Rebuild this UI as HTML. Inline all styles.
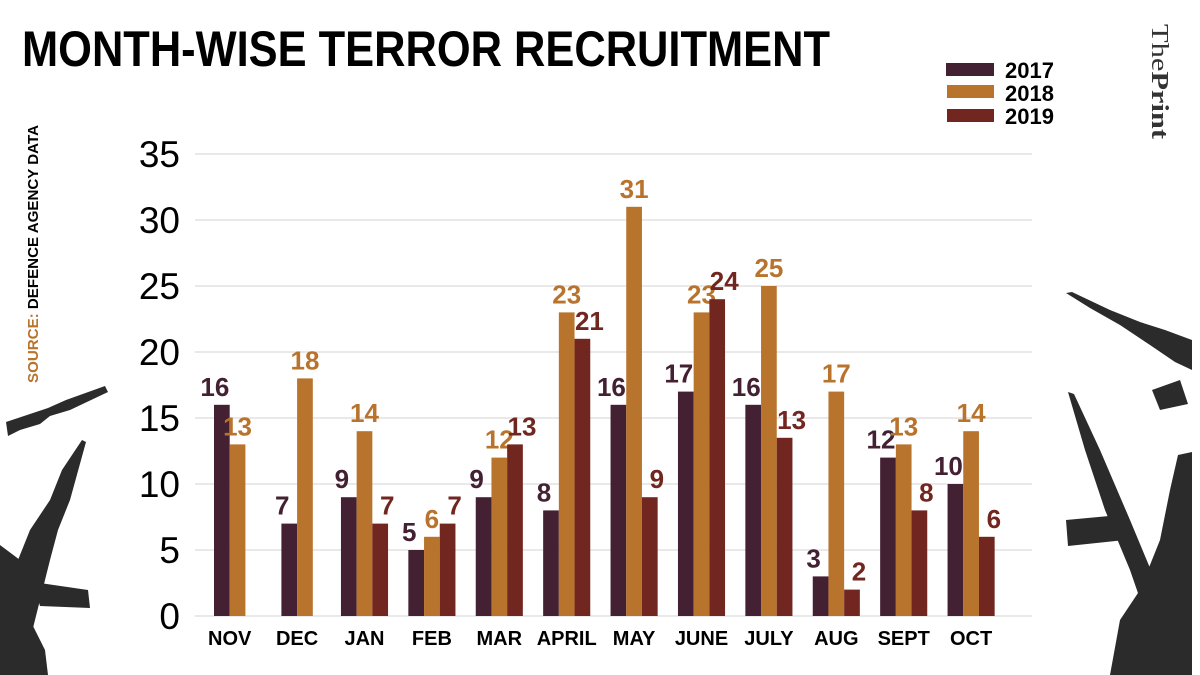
<!DOCTYPE html>
<html><head><meta charset="utf-8">
<style>
html,body{margin:0;padding:0;background:#fff;}
svg{display:block;font-family:"Liberation Sans",sans-serif;}
</style></head>
<body>
<svg id="chart" width="1200" height="675" viewBox="0 0 1200 675">
  <text x="22" y="66" font-size="50" font-weight="bold" fill="#000" textLength="808" lengthAdjust="spacingAndGlyphs">MONTH-WISE TERROR RECRUITMENT</text>
  <text transform="translate(38,383) rotate(-90)" font-size="15" font-weight="bold" textLength="258" lengthAdjust="spacingAndGlyphs"><tspan fill="#b8732c">SOURCE:</tspan><tspan fill="#000"> DEFENCE AGENCY DATA</tspan></text>
  <text transform="translate(1152,24) rotate(90)" font-family="Liberation Serif, serif" font-size="24" fill="#333" textLength="115" lengthAdjust="spacingAndGlyphs">The<tspan font-weight="bold">Print</tspan></text>
  <g>
    <rect x="946" y="63" width="48" height="13" fill="#432032"/>
    <text x="1005" y="78" font-size="22" font-weight="bold">2017</text>
    <rect x="947" y="85" width="47" height="13" fill="#b8732c"/>
    <text x="1005" y="101" font-size="22" font-weight="bold">2018</text>
    <rect x="947" y="109" width="47" height="13" fill="#722620"/>
    <text x="1005" y="124" font-size="22" font-weight="bold">2019</text>
  </g>
  <g fill="#2b2b2b">
    <polygon points="105,386 108,392 70,410 50,416 40,424 20,430 8,436 6,422 30,414 48,408 66,400"/>
    <polygon points="82,440 86,442 70,500 58,530 50,560 40,600 30,640 20,675 0,675 0,610 14,570 30,530 50,500 62,470"/>
    <polygon points="33,582 88,590 90,608 40,606"/>
    <polygon points="0,545 20,560 30,620 45,650 48,675 0,675"/>
    <polygon points="1066,293 1072,292 1110,310 1140,322 1165,330 1192,340 1192,370 1175,362 1150,345 1120,325 1090,308"/>
    <polygon points="1152,390 1180,380 1188,404 1160,410"/>
    <polygon points="1068,392 1074,394 1100,450 1130,520 1155,580 1160,620 1148,622 1130,570 1105,510 1085,450"/>
    <polygon points="1066,520 1120,515 1125,540 1068,546"/>
    <polygon points="1178,455 1192,452 1192,675 1110,675 1120,620 1140,590 1160,540 1170,490"/>
  </g>
  <g id="grid"></g>
  <g id="yticks"></g>
  <g id="bars"></g>
  <g id="xlabels"></g>
</svg>
<script>
const months = ["NOV","DEC","JAN","FEB","MAR","APRIL","MAY","JUNE","JULY","AUG","SEPT","OCT"];
const v2017 = [16,7,9,5,9,8,16,17,16,3,12,10];
const v2018 = [13,18,14,6,12,23,31,23,25,17,13,14];
const v2019 = [null,null,7,7,13,21,9,24,13.5,2,8,6];
const yTicks = [0,5,10,15,20,25,30,35];
const colors = ["#432032","#b8732c","#722620"];
const seriesNames = ["2017","2018","2019"];

const NS = "http://www.w3.org/2000/svg";
const y0 = 616, unit = 13.2;
function yScale(v){ return y0 - v*unit; }
const barW = 15.7, step = 67.4;
function groupCenter(i){ return 364.5 + step*(i-2); }
function mk(tag, attrs, parent){ const e=document.createElementNS(NS,tag); for(const k in attrs) e.setAttribute(k,attrs[k]); parent.appendChild(e); return e; }

const grid = document.getElementById('grid');
const yt = document.getElementById('yticks');
yTicks.forEach(t=>{
  const l = mk('line',{x1:195,x2:1032,y1:yScale(t),y2:yScale(t),stroke:"#e2e2e2","stroke-width":1.5},grid);
  
  
  const tx = mk('text',{x:180,y:yScale(t)+13,"text-anchor":"end","font-size":37,fill:"#000"},yt);
  tx.textContent = t;
  
  
});

const bars = document.getElementById('bars');
const xl = document.getElementById('xlabels');
const all = [v2017,v2018,v2019];
months.forEach((m,i)=>{
  const present = [0,1,2].filter(s=>all[s][i]!==null && all[s][i]!==undefined);
  const c = groupCenter(i);
  const start = c - present.length*barW/2;
  present.forEach((s,k)=>{
    const v = all[s][i];
    const x = start + k*barW;
    const r = mk('rect',{x:x,y:yScale(v),width:barW,height:v*unit,fill:colors[s]},bars);
    
    
    let lx = x + barW/2;
    if(s===0) lx -= 7; if(s===2) lx += 7;
    const t = mk('text',{x:lx,y:yScale(v)-9,"text-anchor":"middle","font-size":26,"font-weight":"bold",fill:colors[s]},bars);
    t.textContent = Math.floor(v);
    
    
  });
  const ml = mk('text',{x:c,y:645,"text-anchor":"middle","font-size":20,"font-weight":"bold",fill:"#000"},xl);
  ml.textContent = m;
  
  
});
</script>
</body></html>
